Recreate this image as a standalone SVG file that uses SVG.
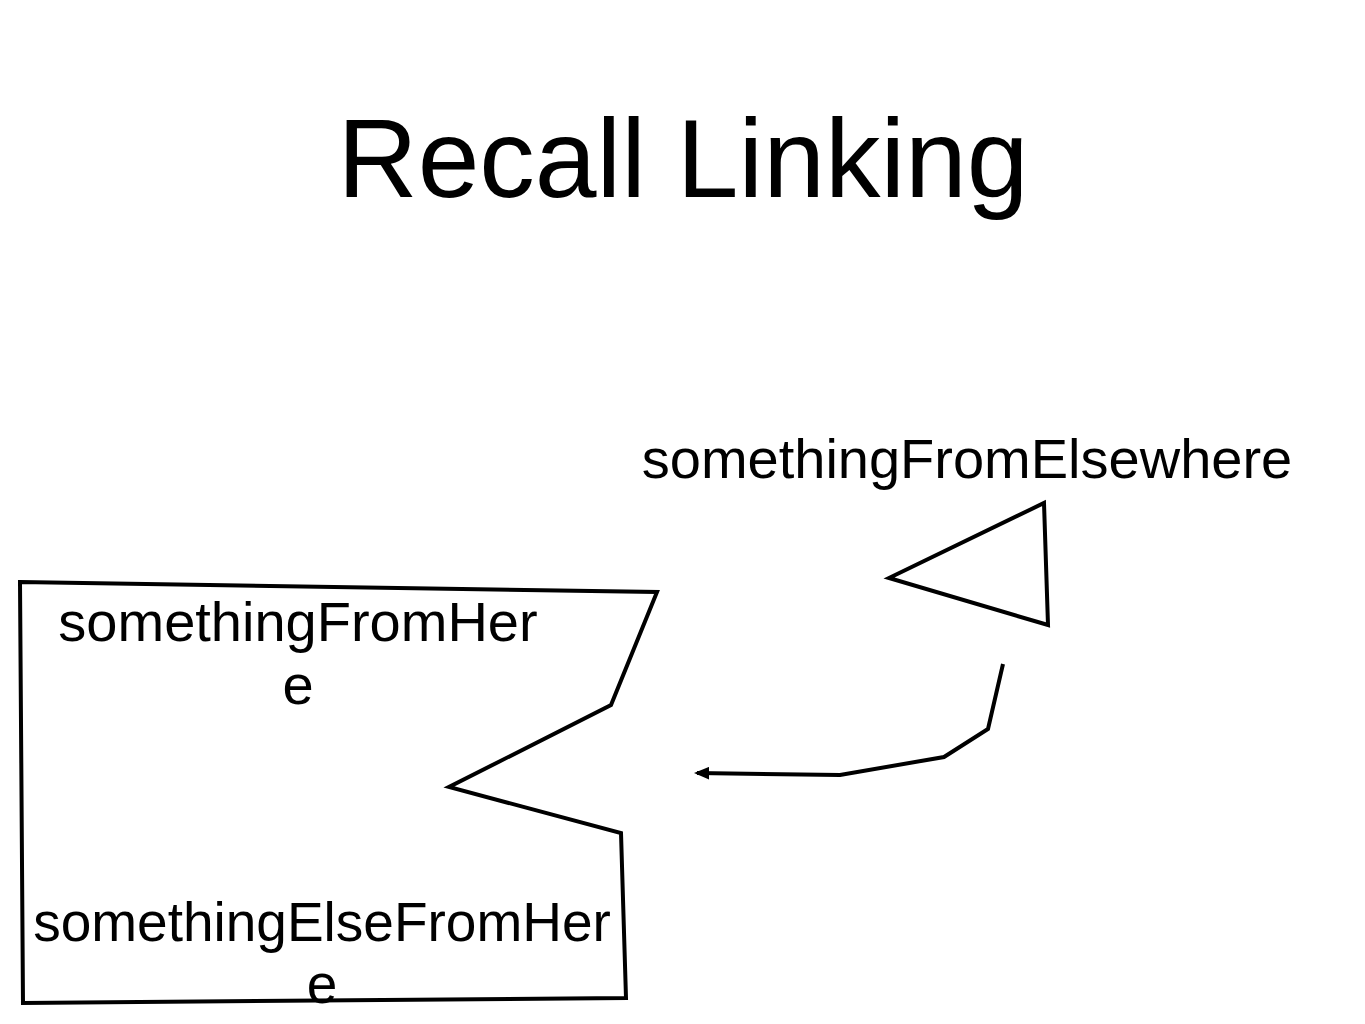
<svg xmlns="http://www.w3.org/2000/svg" width="1365" height="1024" viewBox="0 0 1365 1024">
<style>
.t{font-family:"Liberation Sans",Arial,sans-serif;fill:#000;text-anchor:middle}
.s{fill:none;stroke:#000;stroke-width:4;stroke-linejoin:miter}
</style>
<defs>
<marker id="ah" viewBox="0 0 10 10" refX="8" refY="5" markerWidth="3.8" markerHeight="3.2" orient="auto" markerUnits="strokeWidth" preserveAspectRatio="none">
<path d="M0,0 L10,5 L0,10 z" fill="#000"/>
</marker>
</defs>
<rect width="1365" height="1024" fill="#fff"/>
<text class="t" x="683" y="197" font-size="111">Recall Linking</text>
<g id="here">
<polygon class="s" points="20,582 657,592 611,705 449,787 621,833 626,998 23,1003"/>
<text class="t" x="298" y="641" font-size="56">somethingFromHer</text>
<text class="t" x="298" y="704" font-size="56">e</text>
<text class="t" x="322" y="941" font-size="55">somethingElseFromHer</text>
<text class="t" x="322" y="1003" font-size="55">e</text>
</g>
<g id="elsewhere">
<polygon class="s" points="889,578 1044,503 1048,625"/>
<text class="t" x="967" y="478" font-size="56">somethingFromElsewhere</text>
</g>
<g id="connectors">
<polyline class="s" points="1003,664 988,729 944,757 840,775 697,773" marker-end="url(#ah)"/>
</g>
</svg>
